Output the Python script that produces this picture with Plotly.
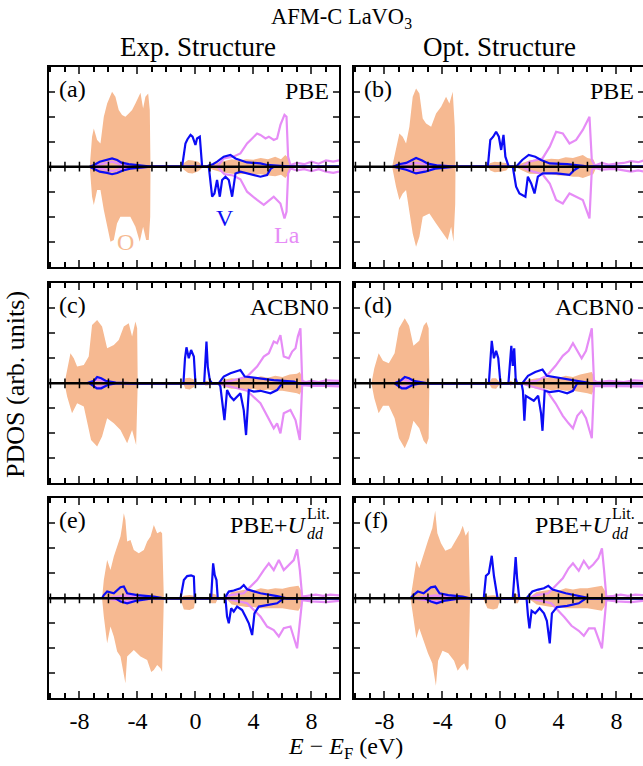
import plotly.graph_objects as go

# ---------------- data (energy in eV, PDOS in arb. units) ----------------
ENERGY_RANGE = [-10.1, 9.9]
PDOS_RANGE = [-4, 4]
X_TICKS = [-8, -4, 0, 4, 8]
ZERO_TICKS = list(range(-10, 10))

PANEL_TAGS = ["(a)", "(b)", "(c)", "(d)", "(e)", "(f)"]
METHODS = ["PBE", "PBE", "ACBN0", "ACBN0", "PBE+U", "PBE+U"]
COLUMN_TITLES = ["Exp. Structure", "Opt. Structure"]

# ---- (a) PBE, Exp.
a_O_up = [(-7.29,0),(-7.13,1.2),(-7.01,1.53),(-6.78,1.07),(-6.55,0.93),(-6.32,2.0),(-6.09,2.53),(-5.75,3.0),(-5.52,2.8),(-5.29,2.27),(-5.06,2.07),(-4.83,2.0),(-4.6,2.13),(-4.37,2.27),(-4.14,2.53),(-3.79,2.96),(-3.61,2.33),(-3.45,2.8),(-3.26,2.93),(-3.15,2.27),(-3.1,0),
          (-0.95,0),(-0.8,0.15),(-0.5,0.27),(-0.2,0.25),(0.2,0.2),(0.45,0.05),(0.5,0),
          (0.8,0),(1.2,0.1),(1.8,0.2),(2.5,0.3),(3.0,0.25),(3.5,0.3),(4.0,0.28),(4.5,0.35),(5.0,0.3),(5.5,0.4),(5.9,0.3),(6.2,0.47),(6.4,0.35),(6.6,0.05),(7.5,0.03),(9.9,0.03)]
a_O_dn = [(-7.29,0),(-7.13,1.2),(-7.01,1.53),(-6.78,0.93),(-6.55,0.93),(-6.32,1.73),(-6.09,2.4),(-5.86,3.0),(-5.63,2.93),(-5.41,2.27),(-5.18,2.0),(-4.83,2.0),(-4.49,2.0),(-4.14,2.4),(-3.84,3.0),(-3.61,2.4),(-3.4,2.93),(-3.22,2.93),(-3.12,2.0),(-3.1,0),
          (-0.95,0),(-0.8,0.12),(-0.5,0.25),(-0.2,0.27),(0.2,0.18),(0.45,0.05),(0.5,0),
          (0.8,0),(1.2,0.12),(1.8,0.22),(2.5,0.28),(3.0,0.3),(3.5,0.28),(4.0,0.32),(4.5,0.3),(5.0,0.35),(5.5,0.38),(5.9,0.32),(6.2,0.45),(6.4,0.3),(6.6,0.05),(7.5,0.03),(9.9,0.03)]
a_V_up = [(-7.3,0),(-7.0,0.07),(-6.6,0.2),(-6.1,0.27),(-5.75,0.33),(-5.4,0.27),(-5.1,0.16),(-4.6,0.1),(-3.4,0.03),(-3.1,0),
          (-0.92,0),(-0.8,0.6),(-0.69,0.93),(-0.55,1.1),(-0.34,1.27),(-0.2,1.2),(-0.11,1.07),(0.0,0.87),(0.11,1.13),(0.3,1.2),(0.42,0.3),(0.46,0),
          (0.8,0),(0.92,0.05),(1.2,0.1),(1.5,0.2),(1.95,0.4),(2.41,0.47),(2.76,0.33),(3.1,0.27),(3.56,0.17),(4.48,0.13),(4.94,0.07),(6.5,0),(9.9,0)]
a_V_dn = [(-7.3,0),(-7.0,0.1),(-6.6,0.2),(-6.1,0.25),(-5.75,0.3),(-5.4,0.25),(-5.0,0.15),(-4.5,0.08),(-3.1,0),
          (0.92,0),(1.03,0.53),(1.15,1.2),(1.31,1.07),(1.49,0.53),(1.68,1.2),(1.84,0.53),(2.07,0.4),(2.3,0.53),(2.53,1.2),(2.76,0.27),(3.1,0.2),(3.56,0.27),(4.0,0.33),(4.48,0.4),(4.94,0.33),(5.2,0.07),(5.4,0),(9.9,0)]
a_La_up = [(-7.2,0),(-6.5,0.1),(-5.75,0.2),(-5.2,0.1),(-4.5,0.05),(-3.1,0),
           (1.5,0),(1.95,0.33),(2.6,0.4),(3.1,0.53),(3.56,0.93),(3.91,1.13),(4.25,1.33),(4.48,1.27),(4.83,1.13),(5.06,1.2),(5.4,1.07),(5.63,1.13),(5.86,1.67),(6.14,2.07),(6.28,2.0),(6.39,0.4),(6.55,0.07),(7.0,0.15),(7.5,0.1),(8.0,0.2),(8.5,0.12),(9.0,0.25),(9.5,0.2),(9.9,0.25)]
a_La_dn = [(-7.2,0),(-6.5,0.08),(-5.75,0.18),(-5.2,0.1),(-4.5,0.05),(-3.1,0),
           (1.5,0),(2.0,0.3),(2.6,0.35),(3.1,0.5),(3.56,1.0),(4.25,1.33),(4.71,1.53),(5.4,1.2),(5.86,1.47),(6.14,2.07),(6.28,1.8),(6.39,0.27),(6.55,0.07),(7.0,0.15),(7.5,0.1),(8.0,0.18),(8.5,0.1),(9.0,0.2),(9.5,0.25),(9.9,0.2)]

# ---- (b) PBE, Opt.
b_O_up = [(-7.47,0),(-7.2,0.8),(-6.97,1.33),(-6.74,1.2),(-6.51,0.93),(-6.28,1.6),(-6.05,2.8),(-5.82,3.13),(-5.59,2.93),(-5.36,1.93),(-5.13,1.73),(-4.78,1.6),(-4.44,2.13),(-4.09,2.4),(-3.75,2.8),(-3.52,2.53),(-3.29,3.0),(-3.15,1.6),(-3.1,0),
          (-0.87,0),(-0.7,0.15),(-0.4,0.2),(0.0,0.18),(0.4,0.15),(0.62,0),
          (1.0,0),(1.5,0.15),(2.0,0.25),(2.5,0.3),(3.0,0.28),(3.5,0.32),(4.0,0.3),(4.5,0.38),(5.0,0.35),(5.4,0.42),(5.68,0.47),(6.0,0.35),(6.4,0.3),(6.6,0.05),(7.5,0.03),(9.9,0.03)]
b_O_dn = [(-7.47,0),(-7.2,0.8),(-6.97,1.33),(-6.74,1.07),(-6.51,0.93),(-6.28,1.73),(-6.05,2.67),(-5.82,3.2),(-5.59,2.8),(-5.36,2.0),(-4.9,1.87),(-4.44,2.27),(-3.98,2.67),(-3.64,2.93),(-3.4,2.4),(-3.24,3.0),(-3.12,1.5),(-3.1,0),
          (-0.87,0),(-0.7,0.15),(-0.4,0.22),(0.0,0.2),(0.4,0.15),(0.62,0),
          (1.0,0),(1.5,0.15),(2.0,0.28),(2.5,0.3),(3.0,0.3),(3.5,0.3),(4.0,0.35),(4.5,0.35),(5.0,0.4),(5.4,0.4),(5.68,0.45),(6.0,0.38),(6.4,0.3),(6.6,0.05),(7.5,0.03),(9.9,0.03)]
b_V_up = [(-7.4,0),(-7.0,0.1),(-6.5,0.15),(-6.0,0.3),(-5.82,0.35),(-5.4,0.25),(-5.0,0.12),(-4.4,0.05),(-3.1,0),
          (-0.87,0),(-0.7,1.07),(-0.5,1.2),(-0.3,1.4),(-0.11,1.2),(0.05,0.67),(0.21,1.27),(0.34,0.4),(0.57,0),
          (1.08,0),(1.5,0.27),(1.95,0.47),(2.4,0.4),(2.8,0.27),(3.4,0.13),(4.6,0.1),(5.7,0.03),(6.0,0),(9.9,0)]
b_V_dn = [(-7.4,0),(-6.5,0.12),(-5.82,0.27),(-5.2,0.2),(-4.5,0.08),(-3.1,0),
          (0.85,0),(1.08,0.8),(1.31,1.07),(1.54,1.13),(1.72,1.2),(1.89,0.4),(2.12,0.67),(2.35,1.07),(2.58,0.4),(2.92,0.27),(3.86,0.27),(4.76,0.33),(5.1,0.13),(5.45,0),(9.9,0)]
b_La_up = [(-7.3,0),(-6.5,0.08),(-5.8,0.15),(-5.0,0.08),(-3.1,0),
           (1.5,0),(2.0,0.2),(2.9,0.33),(3.4,0.8),(3.84,1.4),(4.3,1.33),(4.76,0.93),(5.22,1.07),(5.68,1.47),(6.14,2.0),(6.3,0.27),(6.5,0.05),(7.0,0.15),(7.5,0.08),(8.0,0.12),(8.5,0.15),(9.0,0.22),(9.5,0.18),(9.9,0.25)]
b_La_dn = [(-7.3,0),(-6.5,0.08),(-5.8,0.15),(-5.0,0.08),(-3.1,0),
           (1.5,0),(2.0,0.15),(2.9,0.3),(3.4,0.67),(3.84,1.33),(4.3,1.47),(4.76,1.07),(5.22,1.2),(5.68,1.33),(6.14,2.07),(6.3,0.13),(6.5,0.05),(7.0,0.12),(7.5,0.1),(8.0,0.1),(8.5,0.15),(9.0,0.2),(9.5,0.15),(9.9,0.2)]

# ---- (c) ACBN0, Exp.
c_O_up = [(-9.03,0),(-8.85,0.53),(-8.62,1.2),(-8.39,1.0),(-8.16,0.67),(-7.7,0.73),(-7.36,1.07),(-7.13,2.33),(-6.78,2.53),(-6.44,2.27),(-6.09,1.4),(-5.63,1.53),(-5.29,1.73),(-4.94,2.27),(-4.6,2.4),(-4.37,1.87),(-4.14,2.47),(-4.02,2.2),(-3.98,0),
          (-0.85,0),(-0.7,0.2),(-0.4,0.22),(-0.1,0.15),(0.0,0),(0.55,0),(0.7,0.1),(0.9,0.08),(1.0,0),
          (1.5,0),(2.0,0.15),(2.5,0.2),(3.0,0.18),(3.5,0.25),(4.0,0.2),(4.5,0.28),(5.0,0.22),(5.5,0.3),(6.0,0.25),(6.5,0.35),(7.0,0.38),(7.2,0.45),(7.4,0.2),(7.5,0.03),(9.9,0.03)]
c_O_dn = [(-9.03,0),(-8.85,0.53),(-8.51,1.2),(-8.16,0.8),(-7.7,0.93),(-7.2,2.27),(-6.78,2.53),(-6.44,2.13),(-6.09,1.4),(-5.63,1.6),(-5.17,1.87),(-4.71,2.4),(-4.37,1.87),(-4.09,2.47),(-3.98,0),
          (-0.85,0),(-0.7,0.22),(-0.4,0.25),(-0.1,0.15),(0.0,0),(0.55,0),(0.7,0.1),(0.9,0.08),(1.0,0),
          (1.5,0),(2.0,0.15),(2.5,0.22),(3.0,0.2),(3.5,0.25),(4.0,0.22),(4.5,0.3),(5.0,0.25),(5.5,0.3),(6.0,0.3),(6.5,0.35),(7.0,0.4),(7.2,0.45),(7.4,0.2),(7.5,0.03),(9.9,0.03)]
c_V_up = [(-7.5,0),(-7.0,0.1),(-6.78,0.25),(-6.5,0.2),(-6.2,0.1),(-5.5,0.03),(-4.0,0),
          (-0.83,0),(-0.72,1.0),(-0.62,1.44),(-0.46,1.0),(-0.3,1.33),(-0.11,1.07),(-0.02,0.3),(0.0,0),(0.6,0),(0.69,1.0),(0.76,1.67),(0.85,0.67),(0.99,0.13),(1.15,0),
          (1.6,0),(1.95,0.27),(2.41,0.4),(3.1,0.53),(3.4,0.27),(4.4,0.2),(5.4,0.13),(6.8,0.07),(7.0,0),(9.9,0)]
c_V_dn = [(-7.3,0),(-6.8,0.2),(-6.5,0.2),(-6.0,0.05),(-5.5,0),
          (1.6,0),(1.72,0.13),(1.91,1.07),(2.0,1.47),(2.18,0.27),(2.41,0.53),(2.64,0.67),(3.1,0.4),(3.33,1.07),(3.49,2.07),(3.68,0.27),(4.02,0.33),(4.48,0.3),(5.17,0.4),(5.63,0.27),(5.98,0),(9.9,0)]
c_La_up = [(-7.3,0),(-6.8,0.15),(-6.3,0.1),(-5.5,0),
           (1.5,0),(2.5,0.1),(3.56,0.27),(4.25,0.67),(4.71,1.07),(5.06,1.2),(5.4,1.67),(5.63,1.6),(5.86,1.93),(6.09,1.07),(6.44,1.0),(6.67,1.27),(6.9,1.4),(7.06,1.87),(7.24,2.2),(7.36,0.1),(7.6,0.05),(8.0,0.1),(8.5,0.05),(9.0,0.12),(9.9,0.1)]
c_La_dn = [(-7.3,0),(-6.8,0.15),(-6.3,0.1),(-5.5,0),
           (1.5,0),(3.56,0.3),(4.48,0.8),(4.94,1.33),(5.4,1.8),(5.63,1.6),(5.86,2.0),(6.09,1.2),(6.55,1.07),(6.9,1.47),(7.2,2.27),(7.36,0.07),(8.0,0.1),(9.0,0.1),(9.9,0.12)]

# ---- (d) ACBN0, Opt.
d_O_up = [(-8.9,0),(-8.7,0.6),(-8.4,1.2),(-8.1,0.9),(-7.7,0.8),(-7.3,1.2),(-7.0,2.2),(-6.6,2.6),(-6.3,2.3),(-6.0,1.5),(-5.6,1.7),(-5.3,2.3),(-5.1,2.45),(-4.95,2.2),(-4.9,0),
          (-0.8,0),(-0.6,0.2),(-0.3,0.2),(0.0,0),(0.5,0),(0.7,0.1),(1.0,0),
          (1.4,0),(2.0,0.15),(2.5,0.2),(3.0,0.2),(3.5,0.25),(4.0,0.22),(4.5,0.3),(5.0,0.25),(5.5,0.35),(6.0,0.4),(6.3,0.45),(6.5,0.2),(6.6,0.03),(9.9,0.03)]
d_O_dn = [(-8.9,0),(-8.7,0.6),(-8.4,1.2),(-8.1,0.9),(-7.7,0.9),(-7.3,1.4),(-7.0,2.2),(-6.6,2.6),(-6.3,2.2),(-6.0,1.5),(-5.6,1.8),(-5.3,2.3),(-5.1,2.45),(-4.95,2.2),(-4.9,0),
          (-0.8,0),(-0.6,0.2),(-0.3,0.22),(0.0,0),(0.5,0),(0.7,0.1),(1.0,0),
          (1.4,0),(2.0,0.15),(2.5,0.22),(3.0,0.2),(3.5,0.28),(4.0,0.25),(4.5,0.3),(5.0,0.3),(5.5,0.35),(6.0,0.4),(6.3,0.45),(6.5,0.2),(6.6,0.03),(9.9,0.03)]
d_V_up = [(-7.3,0),(-6.9,0.1),(-6.6,0.25),(-6.3,0.2),(-6.0,0.1),(-5.0,0),
          (-0.8,0),(-0.7,1.0),(-0.6,1.7),(-0.45,1.0),(-0.3,1.3),(-0.15,1.0),(-0.05,0.2),(0.0,0),(0.55,0),(0.65,1.0),(0.75,1.5),(0.85,0.7),(0.95,1.4),(1.05,0.2),(1.15,0),
          (1.5,0),(1.9,0.3),(2.4,0.45),(2.9,0.55),(3.2,0.3),(4.2,0.2),(5.2,0.12),(6.0,0.05),(6.3,0),(9.9,0)]
d_V_dn = [(-7.3,0),(-6.8,0.2),(-6.5,0.2),(-6.0,0.05),(-5.5,0),
          (1.45,0),(1.55,0.3),(1.65,1.5),(1.75,0.5),(2.0,0.6),(2.3,0.7),(2.6,0.5),(2.8,1.2),(2.9,1.9),(3.05,0.3),(3.4,0.35),(4.0,0.3),(4.6,0.4),(5.0,0.3),(5.3,0),(9.9,0)]
d_La_up = [(-7.3,0),(-6.8,0.15),(-6.3,0.1),(-5.5,0),
           (1.4,0),(2.5,0.1),(3.2,0.3),(3.8,0.7),(4.3,1.1),(4.7,1.3),(5.0,1.6),(5.3,1.3),(5.6,1.0),(5.9,1.3),(6.15,1.8),(6.3,2.2),(6.45,0.1),(6.7,0.05),(7.5,0.1),(8.5,0.05),(9.2,0.12),(9.9,0.1)]
d_La_dn = [(-7.3,0),(-6.8,0.15),(-6.3,0.1),(-5.5,0),
           (1.4,0),(3.2,0.3),(3.8,0.8),(4.3,1.3),(4.7,1.6),(5.0,1.8),(5.3,1.3),(5.6,1.1),(5.9,1.4),(6.15,1.9),(6.3,2.2),(6.45,0.1),(7.0,0.1),(8.0,0.1),(9.0,0.1),(9.9,0.12)]

# ---- (e) PBE+U, Exp.
e_O_up = [(-6.44,0),(-6.32,0.73),(-6.09,1.53),(-5.86,1.13),(-5.63,1.67),(-5.4,2.07),(-5.17,2.47),(-5.06,2.87),(-4.94,3.4),(-4.83,3.13),(-4.71,2.27),(-4.48,2.33),(-4.25,1.93),(-3.91,1.8),(-3.56,1.93),(-3.33,2.27),(-3.1,2.47),(-2.87,2.93),(-2.64,2.6),(-2.41,2.67),(-2.3,2.6),(-2.18,0),
          (-1.05,0),(-0.8,0.1),(-0.4,0.13),(-0.1,0.1),(0.0,0),(0.95,0),(1.1,0.2),(1.4,0.15),(1.55,0),
          (2.1,0),(2.5,0.25),(3.0,0.3),(3.5,0.35),(4.0,0.3),(4.5,0.4),(5.0,0.35),(5.5,0.4),(6.0,0.38),(6.5,0.45),(7.1,0.5),(7.3,0.3),(7.4,0.03),(9.9,0.03)]
e_O_dn = [(-6.44,0),(-6.32,0.73),(-6.09,1.8),(-5.86,1.13),(-5.63,1.53),(-5.4,2.13),(-5.17,2.33),(-4.83,3.4),(-4.71,2.33),(-4.25,2.07),(-3.79,2.33),(-3.33,2.47),(-3.05,2.95),(-2.87,2.87),(-2.64,2.67),(-2.41,2.8),(-2.3,2.95),(-2.18,0),
          (-1.05,0),(-0.8,0.45),(-0.4,0.47),(-0.1,0.4),(0.0,0),(0.95,0),(1.1,0.2),(1.4,0.2),(1.55,0),
          (2.1,0),(2.5,0.25),(3.0,0.3),(3.5,0.35),(4.0,0.35),(4.5,0.4),(5.0,0.4),(5.5,0.4),(6.0,0.4),(6.5,0.45),(7.1,0.5),(7.3,0.3),(7.4,0.03),(9.9,0.03)]
e_V_up = [(-6.44,0),(-6.32,0.13),(-6.09,0.27),(-5.63,0.2),(-5.17,0.44),(-4.94,0.47),(-4.71,0.2),(-4.02,0.13),(-2.87,0.07),(-2.18,0),
          (-1.03,0),(-0.8,0.73),(-0.57,0.89),(-0.3,0.92),(-0.11,0.87),(-0.05,0),(1.08,0),(1.22,1.4),(1.33,0.93),(1.45,0.73),(1.54,0),
          (2.0,0),(2.3,0.27),(2.64,0.31),(3.1,0.4),(3.33,0.53),(3.56,0.36),(4.48,0.2),(5.63,0.09),(6.3,0),(9.9,0)]
e_V_dn = [(-5.5,0),(-5.17,0.13),(-4.71,0.2),(-4.02,0.09),(-3.0,0),
          (2.07,0),(2.18,0.73),(2.3,1.0),(2.46,0.4),(2.64,0.53),(2.87,0.33),(3.22,0.47),(3.45,0.73),(3.68,1.0),(3.91,1.47),(4.07,0.6),(4.37,0.33),(4.94,0.27),(5.63,0.2),(6.09,0),(9.9,0)]
e_La_up = [(-6.2,0),(-5.2,0.1),(-4.8,0.12),(-4.0,0.05),(-2.2,0),
           (2.0,0),(2.41,0.13),(3.33,0.2),(3.79,0.47),(4.25,0.73),(4.71,1.13),(5.06,1.4),(5.4,1.13),(5.75,1.53),(6.09,1.13),(6.44,1.33),(6.78,1.53),(7.01,1.96),(7.2,1.13),(7.36,0.07),(7.8,0.1),(8.3,0.15),(8.8,0.1),(9.3,0.15),(9.9,0.12)]
e_La_dn = [(-6.2,0),(-5.2,0.1),(-4.8,0.12),(-4.0,0.05),(-2.2,0),
           (2.0,0),(3.56,0.2),(4.48,0.73),(4.94,1.13),(5.4,1.27),(5.75,1.53),(6.09,1.2),(6.55,1.13),(7.01,2.0),(7.24,0.6),(7.36,0.07),(8.0,0.12),(9.0,0.15),(9.9,0.1)]

# ---- (f) PBE+U, Opt.
f_O_up = [(-6.2,0),(-6.0,0.7),(-5.8,1.5),(-5.6,1.2),(-5.3,1.8),(-5.0,2.3),(-4.7,2.8),(-4.5,3.5),(-4.35,2.6),(-4.1,2.2),(-3.8,1.9),(-3.4,2.0),(-3.1,2.3),(-2.8,2.6),(-2.6,2.9),(-2.4,2.5),(-2.2,2.7),(-2.1,0),
          (-1.2,0),(-0.9,0.1),(-0.5,0.12),(-0.2,0.1),(0.0,0),(0.85,0),(1.0,0.2),(1.2,0.15),(1.35,0),
          (1.9,0),(2.5,0.25),(3.0,0.3),(3.5,0.35),(4.0,0.3),(4.5,0.4),(5.0,0.35),(5.5,0.4),(6.0,0.4),(6.5,0.45),(7.0,0.5),(7.2,0.3),(7.3,0.03),(9.9,0.03)]
f_O_dn = [(-6.2,0),(-6.0,0.7),(-5.8,1.6),(-5.6,1.2),(-5.3,1.7),(-5.0,2.2),(-4.7,2.6),(-4.45,3.5),(-4.3,2.5),(-4.0,2.1),(-3.6,2.2),(-3.2,2.5),(-2.95,2.9),(-2.7,2.7),(-2.5,2.6),(-2.3,2.9),(-2.2,2.8),(-2.1,0),
          (-1.2,0),(-0.9,0.4),(-0.5,0.45),(-0.2,0.4),(0.0,0),(0.85,0),(1.0,0.2),(1.2,0.2),(1.35,0),
          (1.9,0),(2.5,0.25),(3.0,0.3),(3.5,0.35),(4.0,0.35),(4.5,0.4),(5.0,0.4),(5.5,0.4),(6.0,0.4),(6.5,0.45),(7.0,0.5),(7.2,0.3),(7.3,0.03),(9.9,0.03)]
f_V_up = [(-6.2,0),(-6.0,0.13),(-5.7,0.27),(-5.3,0.2),(-4.8,0.44),(-4.5,0.47),(-4.2,0.2),(-3.6,0.13),(-2.6,0.07),(-2.1,0),
          (-1.15,0),(-1.0,0.9),(-0.8,1.0),(-0.6,1.7),(-0.45,0.9),(-0.3,0.3),(-0.2,0),(0.85,0),(0.95,1.0),(1.05,1.65),(1.15,0.8),(1.3,0),
          (1.8,0),(2.2,0.27),(2.6,0.35),(3.0,0.4),(3.3,0.5),(3.6,0.35),(4.5,0.2),(5.6,0.09),(6.2,0),(9.9,0)]
f_V_dn = [(-5.2,0),(-4.8,0.13),(-4.4,0.2),(-3.8,0.09),(-2.8,0),
          (1.8,0),(1.9,0.7),(2.0,1.2),(2.15,0.5),(2.4,0.6),(2.7,0.4),(3.0,0.6),(3.2,0.9),(3.4,1.8),(3.55,0.6),(3.9,0.35),(4.6,0.3),(5.4,0.2),(5.9,0),(9.9,0)]
f_La_up = [(-6.0,0),(-5.0,0.1),(-4.5,0.12),(-3.6,0.05),(-2.1,0),
           (2.0,0),(2.5,0.13),(3.3,0.2),(3.8,0.5),(4.3,0.8),(4.7,1.2),(5.0,1.4),(5.4,1.1),(5.75,1.5),(6.1,1.2),(6.4,1.35),(6.75,1.6),(7.0,2.0),(7.15,1.1),(7.3,0.07),(7.8,0.1),(8.3,0.15),(8.8,0.1),(9.3,0.15),(9.9,0.12)]
f_La_dn = [(-6.0,0),(-5.0,0.1),(-4.5,0.12),(-3.6,0.05),(-2.1,0),
           (2.0,0),(3.5,0.2),(4.4,0.75),(4.9,1.1),(5.4,1.3),(5.75,1.5),(6.1,1.2),(6.5,1.2),(7.0,2.0),(7.2,0.6),(7.3,0.07),(8.0,0.12),(9.0,0.15),(9.9,0.1)]

PANEL_DATA = [
    (a_O_up, a_O_dn, a_V_up, a_V_dn, a_La_up, a_La_dn),
    (b_O_up, b_O_dn, b_V_up, b_V_dn, b_La_up, b_La_dn),
    (c_O_up, c_O_dn, c_V_up, c_V_dn, c_La_up, c_La_dn),
    (d_O_up, d_O_dn, d_V_up, d_V_dn, d_La_up, d_La_dn),
    (e_O_up, e_O_dn, e_V_up, e_V_dn, e_La_up, e_La_dn),
    (f_O_up, f_O_dn, f_V_up, f_V_dn, f_La_up, f_La_dn),
]

# species labels in panel (a): (text, energy, pdos)
SPECIES_LABELS = [("O", -4.83, -3.0), ("V", 2.07, -2.05), ("La", 6.34, -2.73)]

# ---------------- styling ----------------
FONT = "'Liberation Serif', 'Times New Roman', Times, serif"
C_O = "rgb(246,185,145)"
C_V = "rgb(12,12,245)"
C_LA = "rgb(230,140,246)"

W, H = 647, 766
COL_PX = [(49, 339), (354, 644)]
ROW_PX = [(66.7, 266.7), (283.3, 483.3), (498.3, 698.3)]

fig = go.Figure()
layout = dict(
    width=W, height=H, margin=dict(l=0, r=0, t=0, b=0),
    paper_bgcolor="white", plot_bgcolor="white", showlegend=False,
    font=dict(family=FONT, size=24, color="black"),
)
annotations = []
shapes = []

for i in range(6):
    r, c = divmod(i, 2)
    n = "" if i == 0 else str(i + 1)
    xa, ya = "x" + n, "y" + n
    x0, x1 = COL_PX[c]
    y0, y1 = ROW_PX[r]
    O_up, O_dn, V_up, V_dn, La_up, La_dn = PANEL_DATA[i]

    # O: filled region between spin up and spin down (negative)
    ox = [p[0] for p in O_up] + [p[0] for p in reversed(O_dn)]
    oy = [p[1] for p in O_up] + [-p[1] for p in reversed(O_dn)]
    fig.add_trace(go.Scatter(x=ox, y=oy, fill="toself", fillcolor=C_O, mode="lines",
                             line=dict(width=0, color=C_O), xaxis=xa, yaxis=ya, hoverinfo="skip"))
    for data, sign, col in [(La_up, 1, C_LA), (La_dn, -1, C_LA), (V_up, 1, C_V), (V_dn, -1, C_V)]:
        fig.add_trace(go.Scatter(x=[p[0] for p in data], y=[sign * p[1] for p in data], mode="lines",
                                 line=dict(width=2.2, color=col), xaxis=xa, yaxis=ya))
    # ticks along the zero line
    fig.add_trace(go.Scatter(x=ZERO_TICKS, y=[0] * len(ZERO_TICKS), mode="markers",
                             marker=dict(symbol="line-ns", size=7, line=dict(width=1.5, color="black")),
                             xaxis=xa, yaxis=ya, hoverinfo="skip"))
    shapes.append(dict(type="line", xref=xa + " domain", x0=0, x1=1, yref=ya, y0=0, y1=0,
                       line=dict(color="black", width=2.5), layer="above"))

    xkey = "xaxis" + n
    ykey = "yaxis" + n
    layout[xkey] = dict(
        domain=[x0 / W, x1 / W], range=ENERGY_RANGE, anchor=ya,
        tickmode="array", tickvals=X_TICKS, ticktext=[str(v) for v in X_TICKS],
        showticklabels=(r == 2), ticks="inside", ticklen=7, tickwidth=1.5,
        minor=dict(dtick=1, tick0=0, ticks="inside", ticklen=5, tickwidth=1.5, tickcolor="black"),
        showline=True, linecolor="black", linewidth=2, mirror="allticks",
        showgrid=False, zeroline=False, tickfont=dict(size=24, family=FONT),
    )
    layout[ykey] = dict(
        domain=[1 - y1 / H, 1 - y0 / H], range=PDOS_RANGE, anchor=xa,
        dtick=1, tick0=0, showticklabels=False, ticks="inside", ticklen=6, tickwidth=1.5,
        showline=True, linecolor="black", linewidth=2, mirror="allticks",
        showgrid=False, zeroline=False,
    )

    # panel tag and method label
    annotations.append(dict(text=PANEL_TAGS[i], xref=xa + " domain", yref=ya + " domain",
                            x=0, y=1, xanchor="left", yanchor="top", xshift=8, yshift=-7,
                            showarrow=False, font=dict(size=24, family=FONT)))
    if METHODS[i] == "PBE+U":
        annotations.append(dict(text="PBE+<i>U</i>", xref=xa + " domain", yref=ya + " domain",
                                x=1, y=1, xanchor="right", yanchor="top", xshift=-30, yshift=-12,
                                showarrow=False, font=dict(size=24, family=FONT)))
        annotations.append(dict(text="Lit.", xref=xa + " domain", yref=ya + " domain",
                                x=1, y=1, xanchor="right", yanchor="top", xshift=-7, yshift=-5,
                                showarrow=False, font=dict(size=16, family=FONT)))
        annotations.append(dict(text="<i>dd</i>", xref=xa + " domain", yref=ya + " domain",
                                x=1, y=1, xanchor="right", yanchor="top", xshift=-13, yshift=-25,
                                showarrow=False, font=dict(size=16, family=FONT)))
    else:
        annotations.append(dict(text=METHODS[i], xref=xa + " domain", yref=ya + " domain",
                                x=1, y=1, xanchor="right", yanchor="top", xshift=-8, yshift=-9,
                                showarrow=False, font=dict(size=24, family=FONT)))

for (txt, ex, ey), col in zip(SPECIES_LABELS, [C_O, C_V, C_LA]):
    annotations.append(dict(text=txt, x=ex, y=ey, xref="x", yref="y", showarrow=False,
                            font=dict(size=24, family=FONT, color=col)))

# titles
annotations.append(dict(text="AFM-C LaVO<sub>3</sub>", xref="paper", yref="paper",
                        x=341 / W, y=1 - 18 / H, xanchor="center", yanchor="middle",
                        showarrow=False, font=dict(size=22.5, family=FONT)))
for c, t in enumerate(COLUMN_TITLES):
    annotations.append(dict(text=t, xref="paper", yref="paper",
                            x=(COL_PX[c][0] + COL_PX[c][1]) / 2 / W + (4 / W if c == 0 else 0), y=1 - 47 / H,
                            xanchor="center", yanchor="middle", showarrow=False,
                            font=dict(size=27, family=FONT)))
annotations.append(dict(text="<i>E</i> − <i>E</i><sub>F</sub> (eV)", xref="paper", yref="paper",
                        x=345 / W, y=1 - 748 / H, xanchor="center", yanchor="middle",
                        showarrow=False, font=dict(size=24, family=FONT)))
annotations.append(dict(text="PDOS (arb. units)", xref="paper", yref="paper",
                        x=15 / W, y=1 - 385 / H, xanchor="center", yanchor="middle",
                        textangle=-90, showarrow=False, font=dict(size=26, family=FONT)))

layout["annotations"] = annotations
layout["shapes"] = shapes
fig.update_layout(**layout)

fig.write_html("out.html", post_script="document.documentElement.style.overflow='hidden';document.body.style.overflow='hidden';")
